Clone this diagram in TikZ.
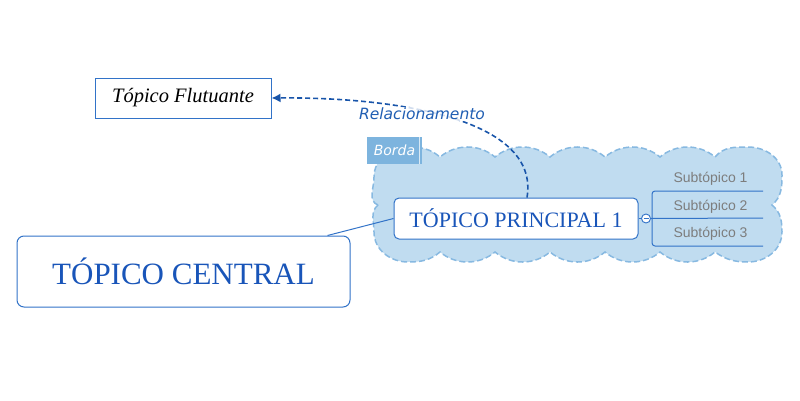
\documentclass[tikz,border=0pt]{standalone}
\usepackage{fontspec}
\setmainfont{Liberation Serif}
\newfontfamily\dvs{DejaVu Sans}
\newfontfamily\lsans{Liberation Sans}
\usetikzlibrary{arrows.meta}
\definecolor{cloudfill}{RGB}{192,220,240}
\definecolor{cloudline}{RGB}{135,185,225}
\definecolor{bordafill}{RGB}{125,180,222}
\definecolor{boxline}{RGB}{50,115,200}
\definecolor{txtblue}{RGB}{25,85,185}
\definecolor{relblue}{RGB}{25,85,170}
\definecolor{subgray}{RGB}{125,125,125}
\tikzset{
  cloudshape/.style={fill=cloudfill,draw=cloudline,line width=1.5pt,dash pattern=on 6pt off 3pt},
  topicbox/.style={draw=boxline,fill=white,line width=1pt,rounded corners=5pt,inner sep=0pt,font=\color{txtblue}},
  floatbox/.style={draw=boxline,fill=white,line width=1pt,inner sep=0pt},
  subtxt/.style={font=\lsans\fontsize{14}{14}\selectfont,text=subgray,inner sep=0pt},
  subline/.style={draw=boxline,line width=1pt},
  relline/.style={draw=relblue,line width=1.6pt,dash pattern=on 5pt off 3pt},
}
\begin{document}
\begin{tikzpicture}[x=1pt,y=1pt]
\useasboundingbox (0,0) rectangle (800,400);
% cloud border
\path[cloudshape] (378,195)
 to[out=160,in=-90] (374,223)
 to[out=90,in=180] (408,253)
 to[out=0,in=140] (440,243)
 arc[start angle=130,end angle=50,radius=42.78pt]
 arc[start angle=130,end angle=50,radius=42.78pt]
 arc[start angle=130,end angle=50,radius=42.78pt]
 arc[start angle=130,end angle=50,radius=42.78pt]
 arc[start angle=130,end angle=50,radius=42.78pt]
 to[out=50,in=180] (748,253)
 to[out=0,in=90] (782,225)
 to[out=-90,in=40] (772,195)
 to[out=-40,in=90] (782,168)
 to[out=-90,in=0] (748,138)
 to[out=180,in=-35] (715,148)
 arc[start angle=-50,end angle=-130,radius=42.78pt]
 arc[start angle=-50,end angle=-130,radius=42.78pt]
 arc[start angle=-50,end angle=-130,radius=42.78pt]
 arc[start angle=-50,end angle=-130,radius=42.78pt]
 arc[start angle=-50,end angle=-130,radius=42.78pt]
 to[out=-140,in=0] (408,138)
 to[out=180,in=-90] (374,168)
 to[out=90,in=-140] (378,195) -- cycle;
% Borda label
\node[fill=bordafill,minimum width=55pt,minimum height=27pt,inner sep=0pt,
  font=\dvs\itshape\fontsize{14}{14}\selectfont,text=white] (borda) at (394.5,249.5) {Borda};
\draw[white!70!bordafill,line width=1pt] ([xshift=-3pt]borda.north east) -- ([xshift=-3pt]borda.south east);
% nodes
\node[floatbox,minimum width=176pt,minimum height=40pt,font=\itshape\fontsize{20.5}{21}\selectfont] (flut) at (183,302) {Tópico Flutuante};
\node[topicbox,minimum width=244pt,minimum height=41pt,font=\color{txtblue}\fontsize{22}{24}\selectfont] (princ) at (516,181.5) {TÓPICO PRINCIPAL 1};
\node[topicbox,rounded corners=7pt,minimum width=333pt,minimum height=71pt,font=\color{txtblue}\fontsize{31}{32}\selectfont] (central) at (183.5,128.5) {TÓPICO CENTRAL};
% connector central -> principal
\draw[boxline,line width=1pt] ([xshift=-23pt]central.north east) -- (princ.west);
% collapse circle
\node[circle,draw=boxline,fill=white,line width=0.9pt,minimum size=9pt,inner sep=0pt] (circ) at (646,181.5) {};
\draw[boxline,line width=0.8pt] ([xshift=-2.5pt]circ.center) -- ([xshift=2.5pt]circ.center);
\draw[boxline,line width=1pt] (princ.east) -- (circ.west);
% subtopics
\coordinate (s1) at (763,209);
\coordinate (s2) at (763,182);
\coordinate (s3) at (763,154);
\draw[subline,rounded corners=3pt] (s1) -- (652,209) -- (652,154) -- (s3);
\draw[subline] (circ.east) -- (s2);
\node[subtxt] (t1) at (710.5,221) {Subtópico 1};
\node[subtxt] (t2) at (710.5,193.5) {Subtópico 2};
\node[subtxt] (t3) at (710.5,166) {Subtópico 3};
% relationship
\draw[relline,-{Latex[length=9pt,width=9pt]}] ([xshift=11pt]princ.north) .. controls (540,280) and (400,303) .. (flut.east);
\node[fill=white,fill opacity=0.8,text opacity=1,inner sep=1pt,
  font=\dvs\itshape\fontsize{15.5}{16}\selectfont,text=relblue!70!boxline] (rel) at (422,286) {Relacionamento};
\end{tikzpicture}
\end{document}
